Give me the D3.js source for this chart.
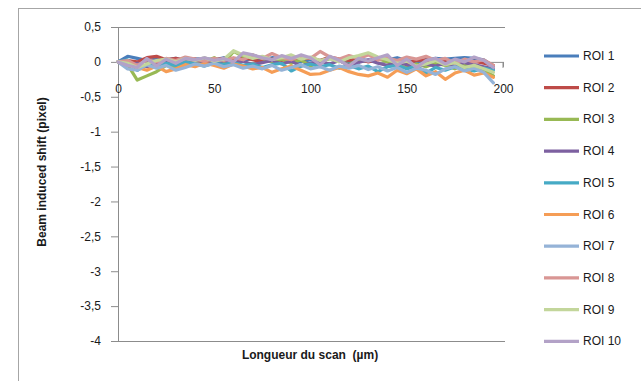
<!DOCTYPE html>
<html>
<head>
<meta charset="utf-8">
<script src="https://cdn.jsdelivr.net/npm/d3@7"></script>
<style>
  body { margin: 0; background: #fff; }
  .chart { width: 641px; height: 381px; }
  text { font-family: "Liberation Sans", Arial, sans-serif; fill: #1a1a1a; }
</style>
</head>
<body>
<div class="chart"></div>
<script>
// scan positions (µm)
const xValues = d3.range(0, 200, 5);

const seriesNames = ["ROI 1", "ROI 2", "ROI 3", "ROI 4", "ROI 5", "ROI 6", "ROI 7", "ROI 8", "ROI 9", "ROI 10"];
const seriesColors = ["#4a7ebb", "#be4b48", "#98b954", "#7d60a0", "#46aac5", "#f59d56", "#95b3d7", "#d99694", "#c3d69b", "#b3a2c7"];

const roi1 = [0, 0.08, 0.05, 0.02, 0.04, 0.03, 0.05, 0.02, 0.04, 0.05, 0.03, 0.06, 0.04, 0.02, 0.05, 0.03, 0.06, 0.04, 0.02, 0.0, 0.03, 0.02, 0.05, 0.03, 0.0, 0.04, 0.02, 0.05, 0.03, 0.06, 0.02, 0.0, 0.03, 0.05, 0.04, 0.05, 0.06, 0.05, 0.03, -0.06];
const roi2 = [0, 0.02, 0.0, 0.06, 0.08, 0.03, 0.05, 0.02, 0.04, 0.0, 0.03, 0.05, 0.02, 0.06, 0.03, 0.0, 0.04, 0.02, 0.05, 0.03, 0.06, 0.02, 0.07, 0.04, 0.02, 0.05, 0.0, 0.03, 0.05, 0.01, -0.02, 0.02, 0.03, -0.01, 0.02, 0.0, -0.03, 0.01, -0.02, -0.05];
const roi3 = [0, -0.04, -0.26, -0.2, -0.14, -0.05, -0.08, -0.02, 0.03, 0.0, 0.06, -0.02, 0.15, 0.08, 0.1, 0.05, 0.0, 0.04, -0.02, 0.03, -0.06, 0.0, 0.05, 0.02, -0.04, 0.03, 0.12, 0.05, 0.0, -0.05, -0.08, -0.03, -0.07, -0.02, -0.05, -0.1, -0.04, -0.08, -0.12, -0.2];
const roi4 = [0, -0.05, -0.02, -0.07, -0.03, 0.02, -0.04, -0.01, 0.03, 0.0, -0.03, 0.02, -0.02, 0.01, -0.04, -0.01, 0.02, -0.03, 0.01, -0.06, -0.02, 0.0, -0.03, 0.02, -0.05, -0.01, 0.03, -0.02, -0.05, 0.0, -0.04, -0.08, -0.03, -0.06, -0.02, -0.05, -0.01, -0.04, -0.07, -0.1];
const roi5 = [0, 0.03, -0.12, -0.04, -0.06, -0.02, -0.05, 0.0, -0.03, -0.06, -0.02, -0.04, -0.01, -0.05, -0.03, -0.08, -0.04, -0.02, -0.13, -0.06, -0.03, -0.07, -0.04, -0.09, -0.05, -0.1, -0.06, -0.14, -0.07, -0.05, -0.1, -0.06, -0.16, -0.08, -0.12, -0.07, -0.1, -0.13, -0.09, -0.12];
const roi6 = [0, -0.03, -0.08, -0.12, -0.06, -0.14, -0.1, -0.04, -0.07, -0.02, -0.05, -0.09, -0.03, -0.06, -0.1, -0.08, -0.15, -0.1, -0.06, -0.12, -0.18, -0.17, -0.12, -0.08, -0.14, -0.18, -0.2, -0.16, -0.22, -0.12, -0.17, -0.1, -0.2, -0.14, -0.25, -0.16, -0.12, -0.19, -0.16, -0.22];
const roi7 = [0, -0.1, -0.12, -0.04, -0.09, -0.05, -0.12, -0.08, -0.03, -0.06, -0.02, -0.07, -0.04, -0.09, -0.06, -0.1, -0.05, -0.12, -0.08, -0.04, -0.1, -0.07, -0.12, -0.06, -0.09, -0.05, -0.11, -0.07, -0.13, -0.08, -0.15, -0.09, -0.12, -0.18, -0.1, -0.07, -0.13, -0.09, -0.15, -0.3];
const roi8 = [0, 0.02, -0.05, 0.03, 0.0, 0.05, 0.02, 0.07, 0.04, 0.01, 0.05, 0.02, 0.06, 0.03, 0.1, 0.05, 0.12, 0.06, 0.03, 0.08, 0.05, 0.15, 0.07, 0.04, 0.09, 0.05, 0.1, 0.03, 0.06, 0.02, 0.07, 0.04, 0.08, 0.02, 0.05, -0.02, 0.04, 0.0, 0.03, -0.05];
const roi9 = [0, -0.02, -0.08, -0.03, 0.02, 0.04, 0.0, 0.05, 0.02, 0.06, 0.01, 0.04, 0.16, 0.1, 0.05, 0.08, 0.03, 0.06, 0.1, 0.04, 0.07, 0.02, 0.05, 0.0, 0.06, 0.09, 0.13, 0.07, 0.03, -0.02, 0.01, -0.06, -0.03, 0.02, -0.04, -0.01, -0.08, -0.05, -0.1, -0.15];
const roi10 = [0, -0.05, -0.08, 0.05, -0.06, 0.04, -0.02, 0.05, 0.03, 0.06, 0.02, 0.05, 0.0, 0.13, 0.1, 0.06, 0.03, 0.09, 0.05, 0.1, 0.06, -0.04, 0.08, 0.02, -0.06, 0.05, 0.01, 0.06, 0.1, -0.05, 0.04, -0.08, 0.02, 0.05, -0.03, 0.04, 0.0, 0.07, 0.02, -0.08];

const seriesValues = [roi1, roi2, roi3, roi4, roi5, roi6, roi7, roi8, roi9, roi10];

const xTicks = [0, 50, 100, 150, 200];
const yTicks = [0.5, 0, -0.5, -1, -1.5, -2, -2.5, -3, -3.5, -4];

let chart = {};
chart.margin = { top: 27, left: 118 };
chart.width = 385;
chart.height = 314;

chart.svg = d3.select(".chart").append("svg")
    .attr("width", 641)
    .attr("height", 381);

// chart area border
chart.svg.append("rect")
    .attr("x", 18.5).attr("y", 8.5)
    .attr("width", 700).attr("height", 500)
    .attr("fill", "none")
    .attr("stroke", "#a6a6a6");

chart.plot = chart.svg.append("g")
    .attr("transform", `translate(${chart.margin.left},${chart.margin.top})`);

chart.xScale = d3.scaleLinear().domain([0, 200]).range([0, chart.width]);
chart.yScale = d3.scaleLinear().domain([-4, 0.5]).range([chart.height, 0]);

const fmt = d => String(d).replace(".", ",");

// top and bottom frame lines
[0.5, -4].forEach(v => {
    chart.plot.append("line")
        .attr("x1", -7).attr("x2", chart.width + 2)
        .attr("y1", Math.round(chart.yScale(v)) + 0.5)
        .attr("y2", Math.round(chart.yScale(v)) + 0.5)
        .attr("stroke", "#8c8c8c");
});

// y axis
chart.yAxis = chart.plot.append("g")
    .call(d3.axisLeft(chart.yScale).tickValues(yTicks).tickSize(7).tickPadding(10).tickFormat(fmt));
chart.yAxis.select(".domain").attr("stroke", "#8c8c8c").attr("d", `M0.5,0V${chart.height}`);
chart.yAxis.selectAll(".tick line").attr("stroke", "#8c8c8c");
chart.yAxis.selectAll("text").style("font-size", "12px").attr("fill", "#1a1a1a");

// x axis crossing at y = 0
chart.xAxis = chart.plot.append("g")
    .attr("transform", `translate(0,${chart.yScale(0)})`)
    .call(d3.axisBottom(chart.xScale).tickValues(xTicks).tickSize(5).tickPadding(18));
chart.xAxis.select(".domain").attr("stroke", "#8c8c8c").attr("d", `M0,0.5H${chart.width}V6`);
chart.xAxis.selectAll(".tick line").attr("stroke", "#8c8c8c");
chart.xAxis.selectAll("text").style("font-size", "12px").attr("fill", "#1a1a1a");

// series lines
const line = d3.line()
    .x((d, i) => chart.xScale(xValues[i]))
    .y(d => chart.yScale(d));

seriesValues.forEach((vals, k) => {
    chart.plot.append("path")
        .datum(vals)
        .attr("d", line)
        .attr("fill", "none")
        .attr("stroke", seriesColors[k])
        .attr("stroke-width", 3.2)
        .attr("stroke-linejoin", "round")
        .attr("stroke-linecap", "round");
});

// axis titles
chart.svg.append("text")
    .attr("transform", "translate(46,172) rotate(-90)")
    .attr("text-anchor", "middle")
    .style("font-size", "12px")
    .style("font-weight", "bold")
    .text("Beam induced shift (pixel)");

chart.svg.append("text")
    .attr("x", 310).attr("y", 359)
    .attr("text-anchor", "middle")
    .style("font-size", "12px")
    .style("font-weight", "bold")
    .style("white-space", "pre")
    .text("Longueur du scan  (µm)");

// legend
const legend = chart.svg.append("g");
seriesNames.forEach((name, k) => {
    const y = 56 + k * 31.7;
    legend.append("line")
        .attr("x1", 544).attr("x2", 579)
        .attr("y1", y).attr("y2", y)
        .attr("stroke", seriesColors[k])
        .attr("stroke-width", 3.2);
    legend.append("text")
        .attr("x", 583).attr("y", y + 4)
        .style("font-size", "12px")
        .text(name);
});
</script>
</body>
</html>
